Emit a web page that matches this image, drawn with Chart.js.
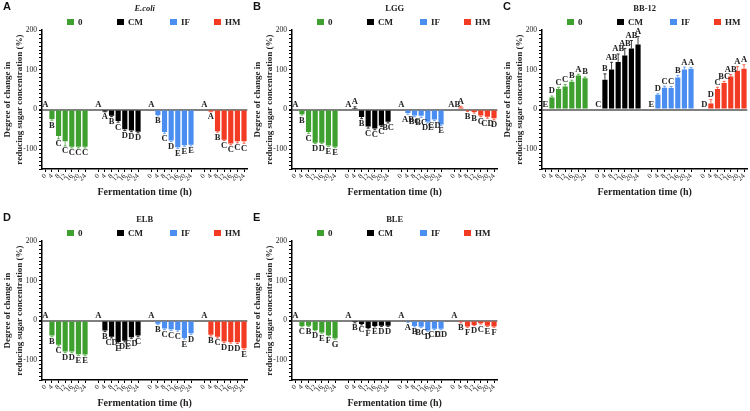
<!DOCTYPE html>
<html lang="en">
<head>
<meta charset="UTF-8">
<title>Degree of change in reducing sugar concentration</title>
<script src="https://cdn.jsdelivr.net/npm/chart.js"></script>
<style>
  body { margin: 0; background: #fff; }
  #wrap { position: relative; width: 750px; height: 411px; overflow: hidden; background: #fff; }
  .panel { position: absolute; width: 250px; height: 200px; }
  .panel canvas { position: absolute; left: 0; top: 0; }
  .tag { position: absolute; left: 3px; top: 0px; font: bold 11px 'Liberation Sans', sans-serif; color: #111; }
  .key { position: absolute; top: 17px; height: 10px; font: bold 9px 'Liberation Serif', serif; color: #222; white-space: nowrap; }
  .key i { display: inline-block; width: 7px; height: 6px; margin-right: 4px; vertical-align: 0px; }
</style>
</head>
<body>
<div id="wrap"></div>

<script>
// ---- data ----
const hours = ['0', '4', '8', '12', '16', '20', '24'];
const groupNames = ['0', 'CM', 'IF', 'HM'];
const panelTags = ['A', 'B', 'C', 'D', 'E'];
const panelTitles = ['E.coli', 'LGG', 'BB-12', 'ELB', 'BLE'];

// values per group (0, CM, IF, HM), one per hour
const ecoliValues = [
  [0, -24, -67, -80, -94, -94, -94],
  [0, -5, -16, -29, -50, -53, -56],
  [0, -14, -57, -78, -95, -90, -89],
  [0, -5, -55, -76, -86, -80, -80]
];
const lggValues = [
  [0, -12, -57, -84, -84, -91, -94],
  [0, 1, -19, -43, -48, -40, -31],
  [0, -9, -15, -16, -31, -25, -38],
  [0, 5, -2, -6, -15, -18, -22]
];
const bb12Values = [
  [0, 30, 52, 58, 70, 86, 79],
  [0, 75, 101, 120, 136, 154, 164],
  [0, 37, 55, 54, 81, 101, 103],
  [0, 15, 52, 67, 83, 98, 103]
];
const elbValues = [
  [0, -38, -61, -78, -78, -85, -86],
  [0, -25, -41, -54, -51, -42, -38],
  [0, -8, -20, -22, -24, -44, -32],
  [0, -36, -41, -53, -54, -55, -70]
];
const bleValues = [
  [0, -14, -13, -24, -30, -37, -45],
  [0, -4, -9, -19, -14, -13, -13],
  [0, -3, -14, -16, -25, -21, -21],
  [0, -4, -15, -11, -7, -13, -15]
];

// error bar sizes (SD)
const ecoliErrors = [
  [0, 3, 7, 12, 3, 3, 3],
  [0, 1, 2, 3, 3, 3, 3],
  [0, 2, 3, 3, 3, 3, 3],
  [0, 1, 2, 2, 3, 4, 5]
];
const lggErrors = [
  [0, 2, 3, 2, 2, 2, 2],
  [0, 6, 4, 4, 3, 3, 3],
  [0, 3, 3, 4, 3, 3, 3],
  [0, 3, 3, 3, 3, 4, 4]
];
const bb12Errors = [
  [0, 4, 4, 5, 4, 3, 3],
  [0, 15, 18, 20, 18, 20, 20],
  [0, 3, 4, 4, 5, 6, 3],
  [0, 10, 4, 4, 5, 10, 10]
];
const elbErrors = [
  [0, 3, 3, 3, 3, 3, 3],
  [0, 3, 3, 3, 3, 3, 3],
  [0, 2, 3, 3, 3, 3, 3],
  [0, 3, 3, 3, 3, 3, 3]
];
const bleErrors = [
  [0, 2, 2, 2, 2, 2, 2],
  [0, 2, 2, 2, 2, 2, 2],
  [0, 2, 2, 2, 2, 2, 2],
  [0, 2, 2, 2, 2, 2, 2]
];

// significance letters
const ecoliLetters = [
  ['A', 'B', 'C', 'C', 'C', 'C', 'C'],
  ['A', 'A', 'B', 'C', 'D', 'D', 'D'],
  ['A', 'B', 'C', 'D', 'E', 'E', 'E'],
  ['A', 'A', 'B', 'C', 'C', 'C', 'C']
];
const lggLetters = [
  ['A', 'B', 'C', 'D', 'D', 'E', 'E'],
  ['A', 'A', 'B', 'C', 'C', 'C', 'BC'],
  ['A', 'AB', 'BC', 'BC', 'DE', 'CD', 'E'],
  ['AB', 'A', 'B', 'B', 'C', 'CD', 'D']
];
const bb12Letters = [
  ['E', 'D', 'C', 'C', 'B', 'A', 'B'],
  ['C', 'B', 'AB', 'AB', 'AB', 'AB', 'A'],
  ['E', 'D', 'C', 'C', 'B', 'A', 'A'],
  ['D', 'D', 'C', 'BC', 'AB', 'A', 'A']
];
const elbLetters = [
  ['A', 'B', 'C', 'D', 'D', 'E', 'E'],
  ['A', 'B', 'CD', 'E', 'DE', 'CD', 'C'],
  ['A', 'B', 'C', 'C', 'C', 'E', 'D'],
  ['A', 'B', 'C', 'D', 'D', 'D', 'E']
];
const bleLetters = [
  ['A', 'C', 'B', 'D', 'E', 'F', 'G'],
  ['A', 'B', 'C', 'F', 'E', 'D', 'D'],
  ['A', 'A', 'B', 'BC', 'D', 'CD', 'CD'],
  ['A', 'B', 'F', 'D', 'C', 'E', 'F']
];

// ---- styles ----
const groupColors = ['#3ea02e', '#000000', '#4a8ef2', '#f23b22'];
const panelPos = [[0, 0], [250, 0], [500, 0], [0, 211], [250, 211]];
const keyLeft = [67, 117, 170, 214];

Chart.defaults.font.family = '"Liberation Serif", "Times New Roman", serif';
Chart.defaults.color = '#222';

// category slots: 7 hours per group, one empty slot between groups
const slotLabels = [];
groupNames.forEach((g, gi) => {
  if (gi > 0) slotLabels.push('');
  hours.forEach(h => slotLabels.push(h));
});
const slotOf = (gi, k) => gi * (hours.length + 1) + k;

// letters and one-sided error bars, placed through the chart scales
const marksPlugin = {
  id: 'marks',
  afterDatasetsDraw(chart, args, opts) {
    const { ctx, scales: { x, y } } = chart;
    ctx.save();
    opts.values.forEach((vals, gi) => vals.forEach((v, k) => {
      const px = x.getPixelForValue(slotOf(gi, k));
      const e = opts.errors[gi][k];
      const tip = v < 0 ? v - e : v + e;
      if (e > 0) {
        ctx.strokeStyle = groupColors[gi];
        ctx.globalAlpha = 0.75;
        ctx.lineWidth = 1;
        ctx.beginPath();
        ctx.moveTo(px, y.getPixelForValue(v));
        ctx.lineTo(px, y.getPixelForValue(tip));
        ctx.moveTo(px - 1.5, y.getPixelForValue(tip));
        ctx.lineTo(px + 1.5, y.getPixelForValue(tip));
        ctx.stroke();
        ctx.globalAlpha = 1;
      }
      ctx.fillStyle = '#222';
      ctx.font = 'bold 8.5px "Liberation Serif", serif';
      ctx.textAlign = 'center';
      const label = opts.letters[gi][k];
      if (v < 0) {
        ctx.textBaseline = 'top';
        ctx.fillText(label, px, y.getPixelForValue(tip) + 1);
      } else {
        ctx.textBaseline = 'bottom';
        ctx.fillText(label, px, y.getPixelForValue(tip) - 0.5);
      }
    }));
    ctx.restore();
  }
};

const panelValues = [ecoliValues, lggValues, bb12Values, elbValues, bleValues];
const panelErrors = [ecoliErrors, lggErrors, bb12Errors, elbErrors, bleErrors];
const panelLetters = [ecoliLetters, lggLetters, bb12Letters, elbLetters, bleLetters];

const wrap = document.getElementById('wrap');

panelTitles.forEach((title, p) => {
  const box = document.createElement('div');
  box.className = 'panel';
  box.style.left = panelPos[p][0] + 'px';
  box.style.top = panelPos[p][1] + 'px';
  const canvas = document.createElement('canvas');
  canvas.width = 250;
  canvas.height = 200;
  box.appendChild(canvas);

  const tag = document.createElement('div');
  tag.className = 'tag';
  tag.textContent = panelTags[p];
  box.appendChild(tag);

  groupNames.forEach((g, gi) => {
    const key = document.createElement('div');
    key.className = 'key';
    key.style.left = keyLeft[gi] + 'px';
    key.innerHTML = '<i style="background:' + groupColors[gi] + '"></i>' + g;
    box.appendChild(key);
  });
  wrap.appendChild(box);

  const datasets = groupNames.map((g, gi) => {
    const data = slotLabels.map(() => null);
    panelValues[p][gi].forEach((v, k) => { data[slotOf(gi, k)] = v; });
    return {
      label: g,
      data,
      backgroundColor: groupColors[gi],
      borderWidth: 0,
      barPercentage: 0.78,
      categoryPercentage: 1
    };
  });

  new Chart(canvas, {
    type: 'bar',
    data: { labels: slotLabels, datasets },
    plugins: [marksPlugin],
    options: {
      responsive: false,
      animation: false,
      grouped: false,
      layout: { padding: { left: 0, right: 1, top: 0, bottom: 0 } },
      plugins: {
        legend: { display: false },
        tooltip: { enabled: false },
        title: {
          display: true,
          text: title,
          fullSize: false,
          color: '#222',
          font: { size: 8.5, weight: 'bold', style: p === 0 ? 'italic' : 'normal' },
          padding: { top: 4, bottom: 16 }
        },
        marks: { values: panelValues[p], errors: panelErrors[p], letters: panelLetters[p] }
      },
      scales: {
        x: {
          ticks: { autoSkip: false, maxRotation: 45, minRotation: 45, padding: 0, color: '#222', font: { size: 7 } },
          grid: {
            display: true, offset: false, drawOnChartArea: false, tickLength: 3,
            tickColor: c => slotLabels[c.index] === '' ? 'rgba(0,0,0,0)' : '#000'
          },
          border: { color: '#000', width: 1.5 },
          title: { display: true, text: 'Fermentation time (h)', color: '#222', font: { size: 10, weight: 'bold' }, padding: { top: 2, bottom: 2 } },
          afterFit: s => { s.height = 31; }
        },
        y: {
          min: -150,
          max: 200,
          ticks: {
            stepSize: 10, autoSkip: false, maxTicksLimit: 60, padding: 2, color: '#222', font: { size: 7.5 },
            callback: v => v % 100 === 0 ? v : ''
          },
          grid: {
            display: true,
            drawOnChartArea: true,
            color: c => c.tick && c.tick.value === 0 ? '#808080' : 'rgba(0,0,0,0)',
            lineWidth: c => c.tick && c.tick.value === 0 ? 2 : 1,
            tickColor: '#000',
            tickLength: 3
          },
          border: { color: '#000', width: 1.5 },
          title: {
            display: true,
            text: ['Degree of change in', 'reducing sugar concentration (%)'],
            color: '#222',
            font: { size: 9, weight: 'bold', lineHeight: 1.3 },
            padding: { top: 2, bottom: 0 }
          },
          afterFit: s => { s.width = 42; }
        }
      }
    }
  });
});
</script>
</body>
</html>
